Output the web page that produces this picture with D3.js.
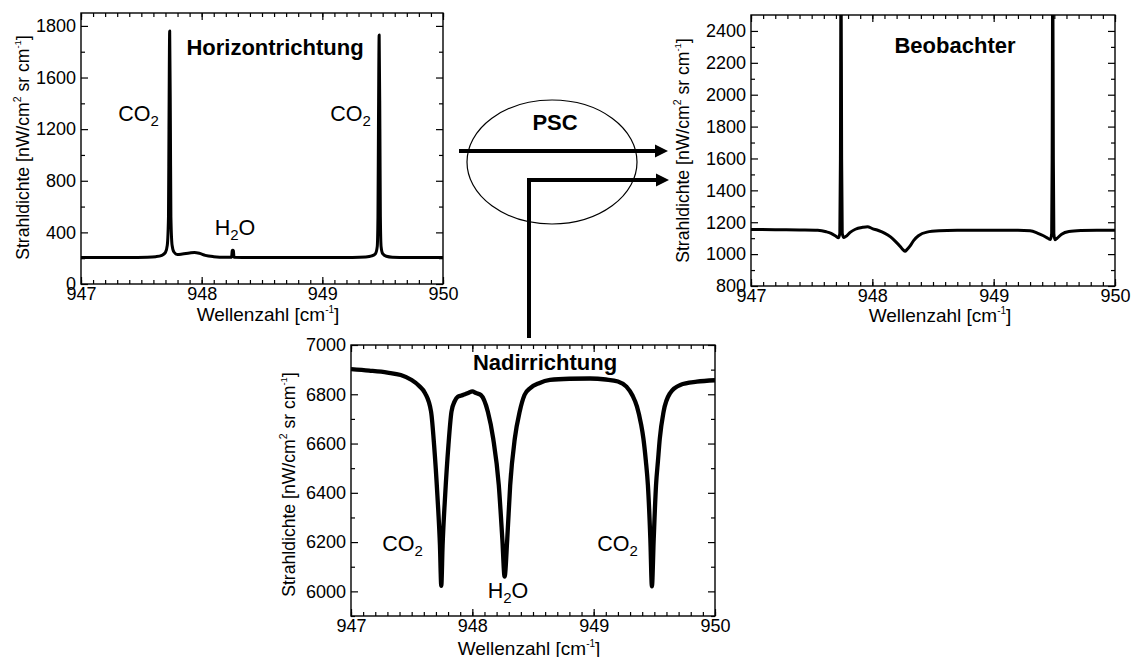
<!DOCTYPE html>
<html>
<head>
<meta charset="utf-8">
<script src="https://cdn.jsdelivr.net/npm/d3@7"></script>
<style>
  html, body { margin: 0; padding: 0; background: #fff; }
  svg text { font-family: "Liberation Sans", Arial, Helvetica, sans-serif; fill: #000; }
</style>
</head>
<body>
<svg id="chart" width="1131" height="657"></svg>
<script>
// ---- Spectrum: horizontal view (limb) ----
const horizWavenumber = [947.00, 947.20, 947.40, 947.55, 947.62, 947.67, 947.70, 947.715, 947.725, 947.729, 947.735, 947.741, 947.745, 947.755, 947.77, 947.80, 947.84, 947.90, 947.94, 947.98, 948.03, 948.10, 948.20, 948.248, 948.253, 948.258, 948.263, 948.268, 948.40, 948.70, 949.00, 949.25, 949.36, 949.41, 949.44, 949.455, 949.461, 949.465, 949.471, 949.477, 949.481, 949.487, 949.50, 949.53, 949.58, 949.70, 949.85, 950.00];
const horizRadiance   = [205, 205, 206, 208, 212, 222, 245, 300, 520, 1200, 1960, 1200, 520, 300, 248, 228, 232, 240, 244, 238, 222, 212, 207, 207, 258, 262, 258, 207, 205, 205, 205, 206, 210, 218, 235, 290, 520, 1200, 1930, 1200, 520, 290, 235, 215, 208, 206, 206, 205];

// ---- Spectrum: observer (behind the PSC) ----
const obsWavenumber = [947.00, 947.20, 947.40, 947.55, 947.62, 947.66, 947.70, 947.72, 947.732, 947.737, 947.742, 947.747, 947.752, 947.765, 947.78, 947.82, 947.86, 947.92, 947.96, 948.00, 948.05, 948.10, 948.15, 948.19, 948.23, 948.255, 948.27, 948.285, 948.31, 948.34, 948.38, 948.45, 948.55, 948.70, 949.00, 949.20, 949.30, 949.36, 949.41, 949.45, 949.468, 949.478, 949.482, 949.487, 949.492, 949.496, 949.505, 949.52, 949.56, 949.62, 949.72, 949.85, 950.00];
const obsRadiance   = [1155, 1153, 1151, 1149, 1140, 1130, 1112, 1103, 1130, 1600, 2900, 1600, 1130, 1104, 1110, 1138, 1156, 1168, 1172, 1160, 1148, 1132, 1108, 1080, 1048, 1026, 1018, 1028, 1050, 1085, 1115, 1138, 1146, 1149, 1150, 1150, 1146, 1132, 1115, 1098, 1092, 1130, 1600, 2900, 1600, 1130, 1090, 1098, 1125, 1142, 1148, 1150, 1150];

// ---- Spectrum: nadir view ----
const nadirWavenumber = [947.00, 947.15, 947.30, 947.41, 947.50, 947.56, 947.61, 947.66, 947.685, 947.712, 947.733, 947.744, 947.755, 947.776, 947.803, 947.828, 947.855, 947.88, 947.91, 947.94, 947.97, 948.00, 948.03, 948.07, 948.128, 948.172, 948.218, 948.247, 948.266, 948.288, 948.312, 948.35, 948.39, 948.43, 948.48, 948.55, 948.64, 948.80, 948.97, 949.10, 949.20, 949.27, 949.32, 949.357, 949.39, 949.41, 949.43, 949.447, 949.467, 949.48, 949.495, 949.514, 949.53, 949.545, 949.576, 949.63, 949.714, 949.85, 950.00];
const nadirRadiance   = [6902, 6896, 6888, 6878, 6858, 6835, 6805, 6729, 6593, 6390, 6187, 6022, 6187, 6390, 6593, 6729, 6772, 6790, 6795, 6800, 6806, 6812, 6805, 6797, 6729, 6620, 6431, 6214, 6060, 6214, 6431, 6620, 6729, 6797, 6826, 6845, 6858, 6863, 6864, 6860, 6852, 6831, 6795, 6750, 6680, 6620, 6530, 6431, 6214, 6020, 6214, 6431, 6530, 6620, 6729, 6805, 6838, 6851, 6857];

// ---- Axis ticks ----
const xTicks = [947, 948, 949, 950];
const xTickLabels = ["947", "948", "949", "950"];
const xMinorTicks = d3.range(9470, 9501, 1).map(v => v / 10);

const horizYTicks = [0, 400, 800, 1200, 1600, 2000];
const horizYTickLabels = ["0", "400", "800", "1200", "1600", "1800"];
const horizYMinorTicks = [200, 600, 1000, 1400, 1800];

const obsYTicks = [800, 1000, 1200, 1400, 1600, 1800, 2000, 2200, 2400];
const obsYTickLabels = ["800", "1000", "1200", "1400", "1600", "1800", "2000", "2200", "2400"];
const obsYMinorTicks = [900, 1100, 1300, 1500, 1700, 1900, 2100, 2300];

const nadirYTicks = [6000, 6200, 6400, 6600, 6800, 7000];
const nadirYTickLabels = ["6000", "6200", "6400", "6600", "6800", "7000"];
const nadirYMinorTicks = [5900, 6100, 6300, 6500, 6700, 6900];

// ---- Text labels ----
const panelTitles = ["Horizontrichtung", "Beobachter", "Nadirrichtung"];
const xAxisTitle = "Wellenzahl [cm";
const yAxisTitle = "Strahldichte [nW/cm";

const svg = d3.select("#chart");
const FONT = '"Liberation Sans", Arial, Helvetica, sans-serif';

function styleAxis(sel, size) {
  sel.select(".domain").remove();
  sel.attr("font-size", size).attr("font-family", FONT);
  sel.selectAll("line").attr("stroke", "#000").attr("stroke-width", 1.2);
  sel.selectAll("text").attr("fill", "#000");
}

// Chemical formula label with a subscript digit
function formula(g, x, y, parts) {
  const t = g.append("text").attr("x", x).attr("y", y)
    .attr("text-anchor", "middle").attr("font-size", 21.5);
  let shifted = false;
  parts.forEach(p => {
    if (p.sub) {
      t.append("tspan").attr("dy", 5).attr("font-size", 15).text(p.text);
      shifted = true;
    } else {
      t.append("tspan").attr("dy", shifted ? -5 : 0).attr("font-size", 21.5).text(p.text);
      shifted = false;
    }
  });
}

function drawPanel(p) {
  const g = svg.append("g");
  const x = d3.scaleLinear().domain([947, 950]).range([p.left, p.right]);
  const y = d3.scaleLinear().domain(p.yDomain).range([p.bottom, p.top]);
  const w = p.right - p.left, h = p.bottom - p.top;

  // minor ticks on all four sides (pointing inward)
  const minor = (axis, scale, vals, tr) => g.append("g").attr("transform", tr)
    .call(axis(scale).tickValues(vals).tickSize(-4).tickFormat(""))
    .call(s => styleAxis(s, 18));
  minor(d3.axisBottom, x, xMinorTicks, `translate(0,${p.bottom})`);
  minor(d3.axisTop, x, xMinorTicks, `translate(0,${p.top})`);
  minor(d3.axisLeft, y, p.yMinor, `translate(${p.left},0)`);
  minor(d3.axisRight, y, p.yMinor, `translate(${p.right},0)`);

  // major ticks with labels on bottom and left
  g.append("g").attr("transform", `translate(0,${p.bottom})`)
    .call(d3.axisBottom(x).tickValues(xTicks).tickSize(-7).tickPadding(3)
      .tickFormat((d, i) => xTickLabels[i]))
    .call(s => styleAxis(s, 18));
  g.append("g").attr("transform", `translate(${p.left},0)`)
    .call(d3.axisLeft(y).tickValues(p.yTicks).tickSize(-7).tickPadding(5)
      .tickFormat((d, i) => p.yLabels[i]))
    .call(s => styleAxis(s, 18));
  g.append("g").attr("transform", `translate(0,${p.top})`)
    .call(d3.axisTop(x).tickValues(xTicks).tickSize(-7).tickFormat(""))
    .call(s => styleAxis(s, 18));
  g.append("g").attr("transform", `translate(${p.right},0)`)
    .call(d3.axisRight(y).tickValues(p.yTicks).tickSize(-7).tickFormat(""))
    .call(s => styleAxis(s, 18));

  // frame
  g.append("rect").attr("x", p.left).attr("y", p.top).attr("width", w).attr("height", h)
    .attr("fill", "none").attr("stroke", "#000").attr("stroke-width", 1.4);

  // spectrum, clipped to the plot frame
  const clipId = "clip-" + p.id;
  svg.append("defs").append("clipPath").attr("id", clipId)
    .append("rect").attr("x", p.left).attr("y", p.top).attr("width", w).attr("height", h);
  const line = d3.line().x(d => x(d[0])).y(d => y(d[1])).curve(d3.curveMonotoneX);
  g.append("path").datum(d3.zip(p.wn, p.rad))
    .attr("clip-path", `url(#${clipId})`)
    .attr("fill", "none").attr("stroke", "#000")
    .attr("stroke-width", p.lineWidth).attr("stroke-linejoin", "round")
    .attr("d", line);

  // panel title
  g.append("text").attr("x", p.titleX).attr("y", p.titleY).attr("text-anchor", "middle")
    .attr("font-size", 22).attr("font-weight", "bold").text(p.title);

  // x axis title
  const xt = g.append("text").attr("x", (p.left + p.right) / 2 + p.xTitleDx)
    .attr("y", p.bottom + p.xTitleDy).attr("text-anchor", "middle").attr("font-size", 19);
  xt.append("tspan").text(xAxisTitle);
  xt.append("tspan").attr("dy", -8).attr("font-size", 10).text("-1");
  xt.append("tspan").attr("dy", 8).text("]");

  // y axis title
  const yt = g.append("text")
    .attr("transform", `translate(${p.yTitleX},${(p.top + p.bottom) / 2 + p.yTitleDy}) rotate(-90)`)
    .attr("text-anchor", "middle").attr("font-size", 17.6);
  yt.append("tspan").text(yAxisTitle);
  yt.append("tspan").attr("dy", -8).attr("font-size", 10.5).text("2");
  yt.append("tspan").attr("dy", 8).text(" sr cm");
  yt.append("tspan").attr("dy", -8).attr("font-size", 9.5).text("-1");
  yt.append("tspan").attr("dy", 8).text("]");

  // species labels
  (p.labels || []).forEach(l => formula(g, x(l.x), y(l.y), l.parts));
}

const CO2 = [{ text: "CO" }, { text: "2", sub: true }];
const H2O = [{ text: "H" }, { text: "2", sub: true }, { text: "O" }];

drawPanel({
  id: "horiz", left: 81, right: 443, top: 13, bottom: 284,
  yDomain: [0, 2100], yTicks: horizYTicks, yLabels: horizYTickLabels, yMinor: horizYMinorTicks,
  wn: horizWavenumber, rad: horizRadiance, lineWidth: 3,
  title: panelTitles[0], titleX: 275, titleY: 55,
  xTitleDx: 6, xTitleDy: 37, yTitleX: 28.5, yTitleDy: -1,
  labels: [
    { x: 947.476, y: 1263, parts: CO2 },
    { x: 949.233, y: 1263, parts: CO2 },
    { x: 948.276, y: 380, parts: H2O }
  ]
});

drawPanel({
  id: "obs", left: 751, right: 1115, top: 15, bottom: 286,
  yDomain: [800, 2500], yTicks: obsYTicks, yLabels: obsYTickLabels, yMinor: obsYMinorTicks,
  wn: obsWavenumber, rad: obsRadiance, lineWidth: 3,
  title: panelTitles[1], titleX: 955, titleY: 53,
  xTitleDx: 7, xTitleDy: 36, yTitleX: 688.5, yTitleDy: 0
});

drawPanel({
  id: "nadir", left: 351, right: 715, top: 345, bottom: 616,
  yDomain: [5900, 7000], yTicks: nadirYTicks, yLabels: nadirYTickLabels, yMinor: nadirYMinorTicks,
  wn: nadirWavenumber, rad: nadirRadiance, lineWidth: 4.3,
  title: panelTitles[2], titleX: 545, titleY: 370,
  xTitleDx: -4, xTitleDy: 39, yTitleX: 295, yTitleDy: 4,
  labels: [
    { x: 947.424, y: 6164, parts: CO2 },
    { x: 949.196, y: 6164, parts: CO2 },
    { x: 948.294, y: 5973, parts: H2O }
  ]
});

// ---- PSC cloud with the two light paths ----
const psc = svg.append("g");
psc.append("ellipse").attr("cx", 552).attr("cy", 162).attr("rx", 85).attr("ry", 62)
  .attr("fill", "none").attr("stroke", "#000").attr("stroke-width", 1.2);
psc.append("text").attr("x", 555).attr("y", 130).attr("text-anchor", "middle")
  .attr("font-size", 22).attr("font-weight", "bold").text("PSC");

function arrowHead(tipX, tipY) {
  psc.append("path")
    .attr("d", `M${tipX},${tipY} L${tipX - 13},${tipY - 6.5} L${tipX - 13},${tipY + 6.5} Z`)
    .attr("fill", "#000");
}
// horizontal path: limb view -> observer
psc.append("path").attr("d", "M459,151 L657,151")
  .attr("fill", "none").attr("stroke", "#000").attr("stroke-width", 4);
arrowHead(668, 151);
// nadir path: up from nadir view, then to observer
psc.append("path").attr("d", "M529,338 L529,180 L658,180")
  .attr("fill", "none").attr("stroke", "#000").attr("stroke-width", 4).attr("stroke-linejoin", "miter");
arrowHead(669, 180);
</script>
</body>
</html>
